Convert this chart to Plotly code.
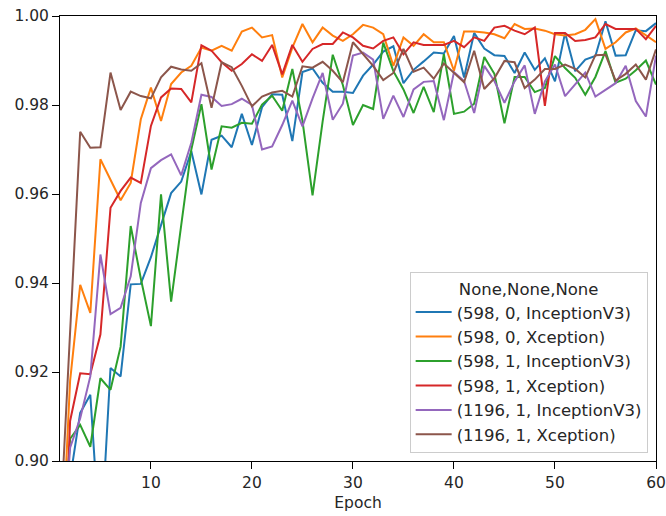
import plotly.graph_objects as go

epochs = list(range(1, 61))

labels = ["(598, 0, InceptionV3)", "(598, 0, Xception)", "(598, 1, InceptionV3)",
          "(598, 1, Xception)", "(1196, 1, InceptionV3)", "(1196, 1, Xception)"]

blue = [0.86, 0.896, 0.9108, 0.9149, 0.88, 0.9209, 0.919, 0.9397, 0.9398, 0.9458,
        0.9530, 0.9602, 0.9628, 0.9696, 0.9599, 0.9722, 0.9731, 0.9705, 0.9780, 0.9710,
        0.9795, 0.9824, 0.9823, 0.9719, 0.9874, 0.9882, 0.9850, 0.9830, 0.9830, 0.9827,
        0.9866, 0.9891, 0.9920, 0.9932, 0.9849, 0.9879, 0.9898, 0.9918, 0.9916, 0.9955,
        0.9862, 0.9962, 0.9927, 0.9912, 0.9910, 0.9872, 0.9918, 0.9879, 0.9905, 0.9853,
        0.9962, 0.9876, 0.9902, 0.9910, 0.9988, 0.9911, 0.9912, 0.9968, 0.9966, 0.9984]

orange = [0.87, 0.918, 0.9396, 0.9333, 0.9678, 0.9633, 0.9586, 0.9625, 0.9768, 0.9839,
          0.9764, 0.9847, 0.9873, 0.9888, 0.9929, 0.9922, 0.9933, 0.9922, 0.9965, 0.9974,
          0.9952, 0.9957, 0.9862, 0.9929, 0.9982, 0.9941, 0.9974, 0.9956, 0.9944, 0.9959,
          0.9980, 0.9974, 0.9959, 0.9888, 0.9952, 0.9933, 0.9959, 0.9941, 0.9941, 0.9877,
          0.9965, 0.9965, 0.9963, 0.9959, 0.9950, 0.9982, 0.9971, 0.9972, 0.9967, 0.9959,
          0.9956, 0.9959, 0.9969, 0.9993, 0.9926, 0.9941, 0.9963, 0.9972, 0.9956, 0.9941]

green = [0.87, 0.905, 0.9081, 0.9032, 0.9186, 0.916, 0.9257, 0.9528, 0.941, 0.9303,
         0.9599, 0.9358, 0.953, 0.970, 0.9802, 0.9655, 0.9752, 0.9749, 0.9760, 0.9758,
         0.9801, 0.9821, 0.9787, 0.9881, 0.9765, 0.9597, 0.9763, 0.9913, 0.9845, 0.9755,
         0.9800, 0.9791, 0.9940, 0.9876, 0.9835, 0.9782, 0.9841, 0.9784, 0.9914, 0.9780,
         0.9785, 0.9803, 0.9908, 0.9870, 0.9759, 0.9863, 0.9863, 0.9829, 0.9838, 0.9910,
         0.9883, 0.9861, 0.9823, 0.9863, 0.9921, 0.9850, 0.9859, 0.9878, 0.9900, 0.9846]

red = [0.85, 0.909, 0.9197, 0.9195, 0.9284, 0.9569, 0.9607, 0.9637, 0.9625, 0.9753,
       0.9817, 0.9837, 0.9836, 0.9806, 0.9934, 0.9922, 0.9896, 0.9877, 0.9892, 0.9914,
       0.9899, 0.9935, 0.9869, 0.9935, 0.9897, 0.9926, 0.9937, 0.9937, 0.9963, 0.9952,
       0.9933, 0.9927, 0.9944, 0.9952, 0.9914, 0.9941, 0.9935, 0.9935, 0.9935, 0.9944,
       0.9930, 0.9952, 0.9944, 0.9974, 0.9978, 0.9967, 0.9959, 0.9974, 0.9798, 0.9962,
       0.9962, 0.9944, 0.9946, 0.9952, 0.9982, 0.9971, 0.9971, 0.9971, 0.9948, 0.9978]

purple = [0.87, 0.903, 0.9096, 0.919, 0.9464, 0.9330, 0.9344, 0.9415, 0.9580, 0.9658,
          0.9676, 0.9689, 0.9642, 0.9715, 0.9823, 0.9818, 0.9798, 0.9802, 0.9814, 0.9800,
          0.9700, 0.9707, 0.9755, 0.9810, 0.9752, 0.9815, 0.9872, 0.9767, 0.9803, 0.9911,
          0.9918, 0.9902, 0.9769, 0.9821, 0.9773, 0.9835, 0.9852, 0.9854, 0.9766, 0.9874,
          0.9854, 0.9782, 0.9888, 0.9854, 0.9805, 0.9853, 0.9889, 0.9780, 0.9853, 0.9891,
          0.9820, 0.9846, 0.9873, 0.9819, 0.9835, 0.9849, 0.9888, 0.9809, 0.9774, 0.9911]

brown = [0.884, 0.929, 0.974, 0.9704, 0.9705, 0.9873, 0.9789, 0.983, 0.982, 0.9815,
         0.9862, 0.9886, 0.988, 0.9877, 0.9894, 0.9794, 0.9896, 0.9885, 0.9843, 0.9797,
         0.9819, 0.9828, 0.9832, 0.9819, 0.9887, 0.9884, 0.9897, 0.9877, 0.9851, 0.9941,
         0.9914, 0.9888, 0.9856, 0.9872, 0.9926, 0.9875, 0.9884, 0.9859, 0.9893, 0.9873,
         0.9851, 0.9922, 0.9836, 0.9860, 0.9899, 0.9896, 0.9838, 0.9857, 0.9881, 0.9881,
         0.9891, 0.9881, 0.9862, 0.9912, 0.9913, 0.9855, 0.9870, 0.9891, 0.9857, 0.9925]

series = [blue, orange, green, red, purple, brown]
colors = ["#1f77b4", "#ff7f0e", "#2ca02c", "#d62728", "#9467bd", "#8c564b"]

y_ticks = [0.90, 0.92, 0.94, 0.96, 0.98, 1.00]
x_ticks = [10, 20, 30, 40, 50, 60]

FONT = "DejaVu Sans"

fig = go.Figure()
for name, ys, c in zip(labels, series, colors):
    fig.add_trace(go.Scatter(x=epochs, y=ys, mode="lines", name=name,
                             line=dict(color=c, width=2)))

axis_common = dict(showline=True, linecolor="black", linewidth=1, mirror=True,
                   ticks="outside", ticklen=7, tickwidth=1, tickcolor="black",
                   showgrid=False, zeroline=False, ticklabeloverflow="allow",
                   automargin=False,
                   tickfont=dict(family=FONT, size=15.5, color="#262626"))

fig.update_layout(
    width=666, height=516,
    margin=dict(l=60, r=10, t=16, b=55),
    plot_bgcolor="white", paper_bgcolor="white",
    font=dict(family=FONT, size=15.5, color="#262626"),
    xaxis=dict(range=[1, 60.0001], tickvals=x_ticks,
               title=dict(text="Epoch", font=dict(family=FONT, size=15.5), standoff=6),
               **axis_common),
    yaxis=dict(range=[0.90, 1.00], tickvals=y_ticks, tickformat=".2f", **axis_common),
    legend=dict(x=0.986, y=0.017, xanchor="right", yanchor="bottom",
                bgcolor="rgba(255,255,255,0.8)", bordercolor="#cccccc", borderwidth=1,
                font=dict(family=FONT, size=16.5, color="#262626"),
                title=dict(text="None,None,None", side="top center",
                           font=dict(family=FONT, size=16.5, color="#262626")),
                tracegroupgap=0, itemwidth=36),
    showlegend=True,
)

fig.write_html("out.html")
